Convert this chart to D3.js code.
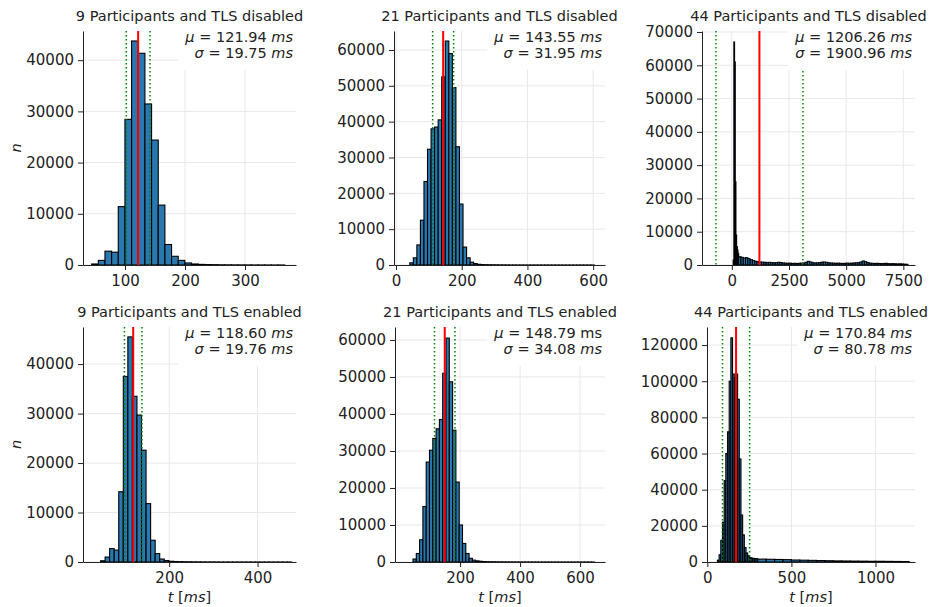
<!DOCTYPE html>
<html>
<head>
<meta charset="utf-8">
<script src="https://cdn.jsdelivr.net/npm/d3@7"></script>
<style>
  body { margin: 0; background: #fff; }
  svg { display: block; font-family: "DejaVu Sans", sans-serif; }
</style>
</head>
<body>
<svg id="chart" width="931" height="607"></svg>
<script>
// ---------------- values ----------------
var participants = [9, 21, 44, 9, 21, 44];
var tlsState = ["disabled", "disabled", "disabled", "enabled", "enabled", "enabled"];
var meanMs = [121.94, 143.55, 1206.26, 118.60, 148.79, 170.84];
var stdMs  = [19.75, 31.95, 1900.96, 19.76, 34.08, 80.78];
var meanUnitItalic = [true, true, true, true, false, true];

var xLimits = [[30, 385], [-6, 636], [-1304, 8010], [5, 487], [-17, 683], [-2, 1235]];
var xTicks  = [[100, 200, 300], [0, 200, 400, 600], [0, 2500, 5000, 7500],
               [200, 400], [200, 400, 600], [0, 500, 1000]];
var yMax      = [45700, 65300, 70300, 47500, 63500, 130000];
var yTickStep = [10000, 10000, 10000, 10000, 10000, 20000];

// histogram bins: first bin start and bin width (ms) per panel
var binStart = [44.4, 42, 60, 44.7, 43, 60];
var binWidth = [11.1, 10.8, 30, 10.3, 11, 10];

var counts9Off = [200, 900, 2700, 2500, 11400, 28450, 43750, 41350, 31450, 24400, 11700, 4000,
  1700, 900, 400, 200, 120, 80, 60, 40, 30, 25, 20, 15, 10, 10, 8, 5, 5];
var counts21Off = [600, 2000, 5600, 12500, 23300, 32300, 38000, 38500, 40500, 52500, 62500, 59000,
  49500, 33000, 17000, 5000, 2000, 800, 400, 200, 120, 80, 60, 50, 40, 30, 25, 20, 15, 12,
  10, 8, 6, 5, 5, 4, 4, 3, 3, 2, 2, 2, 2, 1, 1, 1, 1, 1, 1, 1, 1, 1];
var counts44Off = [1500, 67000, 61000, 25000, 9000, 5500, 4500, 3500];
var counts9On = [250, 1000, 2700, 2400, 14200, 37500, 45500, 33500, 29700, 22600, 11800, 4400,
  1700, 600, 300, 150, 100, 70, 50, 40, 30, 25, 20, 15, 12, 10, 8, 6, 5, 4, 4, 3, 3, 2, 2, 2,
  1, 1, 1, 1, 1, 1];
var counts21On = [800, 2300, 6000, 15000, 27000, 30200, 33400, 36000, 38500, 51000, 60500, 48700,
  35600, 21600, 10000, 5000, 2300, 1000, 500, 300, 200, 120, 80, 60, 50, 40, 30, 25, 20, 15,
  12, 10, 8, 6, 5, 5, 4, 4, 3, 3, 2, 2, 2, 2, 1, 1, 1, 1, 1, 1, 1, 1, 1, 1, 1];
var counts44On = [1000, 4000, 12000, 22000, 45000, 60000, 72000, 100000, 124000, 104000, 102000,
  104000, 90000, 57000, 26000, 15000, 8000, 5000, 3500, 2500, 2200, 2000, 1900, 1800];

// long tails of the 44 participant runs, coarser bins
var tailStart = [null, null, 300, null, null, 300];
var tailWidth = [null, null, 100, null, null, 50];
var tail44Off = [2500, 2300, 2100, 2200, 1900, 1600, 1300, 1100, 1000, 900,
  850, 800, 750, 800, 700, 650, 700, 800, 750, 600,
  550, 500, 550, 450, 500, 450, 500, 550, 600, 800,
  1100, 900, 700, 600, 650, 700, 850, 900, 800, 650,
  600, 550, 500, 550, 500, 450, 500, 550, 500, 550,
  600, 650, 700, 900, 1200, 1000, 700, 550, 500, 450,
  500, 450, 400, 450, 500, 400, 350, 400, 350, 300,
  350, 300, 250, 200];
var tail44On = [1600, 1500, 1400, 1300, 1100, 1000, 900, 800, 700, 600, 550, 500, 450, 400,
  400, 350, 300, 250];

var counts = [counts9Off, counts21Off, counts44Off, counts9On, counts21On, counts44On];
var tails  = [null, null, tail44Off, null, null, tail44On];

// ---------------- layout ----------------
var boxes = [
  {left: 83,  top: 31,  right: 296, bottom: 265},
  {left: 394, top: 31,  right: 605, bottom: 265},
  {left: 702, top: 31,  right: 915, bottom: 265},
  {left: 83,  top: 327, right: 296, bottom: 562},
  {left: 395, top: 327, right: 605, bottom: 562},
  {left: 707, top: 327, right: 915, bottom: 562}
];
var fontSize = 14.5;
var tickFont = 15;
var textColor = "#222";

function makeBins(i) {
  var out = counts[i].map(function(n, k) {
    return {x0: binStart[i] + k * binWidth[i], x1: binStart[i] + (k + 1) * binWidth[i], n: n};
  });
  if (tails[i]) {
    tails[i].forEach(function(n, k) {
      out.push({x0: tailStart[i] + k * tailWidth[i], x1: tailStart[i] + (k + 1) * tailWidth[i], n: n});
    });
  }
  return out;
}

var svg = d3.select("#chart");
svg.append("rect").attr("width", 931).attr("height", 607).attr("fill", "#fff");

participants.forEach(function(p, i) {
  var b = boxes[i];
  var x = d3.scaleLinear().domain(xLimits[i]).range([b.left, b.right]);
  var y = d3.scaleLinear().domain([0, yMax[i]]).range([b.bottom, b.top]);
  var yTicks = d3.range(0, yMax[i] + 1, yTickStep[i]);
  var g = svg.append("g");

  g.append("clipPath").attr("id", "clip" + i)
    .append("rect")
      .attr("x", b.left).attr("y", b.top)
      .attr("width", b.right - b.left).attr("height", b.bottom - b.top);

  // grid
  g.selectAll("line.vgrid").data(xTicks[i]).enter().append("line")
      .attr("x1", function(d) { return x(d); })
      .attr("x2", function(d) { return x(d); })
      .attr("y1", b.top).attr("y2", b.bottom)
      .attr("stroke", "#e8e8e8").attr("stroke-width", 1);
  g.selectAll("line.hgrid").data(yTicks).enter().append("line")
      .attr("x1", b.left).attr("x2", b.right)
      .attr("y1", function(d) { return y(d); })
      .attr("y2", function(d) { return y(d); })
      .attr("stroke", "#e8e8e8").attr("stroke-width", 1);

  // bars
  g.append("g").attr("clip-path", "url(#clip" + i + ")")
    .selectAll("rect").data(makeBins(i)).enter().append("rect")
      .attr("x", function(d) { return x(d.x0); })
      .attr("width", function(d) { return x(d.x1) - x(d.x0); })
      .attr("y", function(d) { return y(d.n); })
      .attr("height", function(d) { return y(0) - y(d.n); })
      .attr("fill", "#2a78b0")
      .attr("stroke", "#000")
      .attr("stroke-width", 1.1);

  // mean and mean +- std
  var lines = g.append("g").attr("clip-path", "url(#clip" + i + ")");
  [meanMs[i] - stdMs[i], meanMs[i] + stdMs[i]].forEach(function(v) {
    lines.append("line")
      .attr("x1", x(v)).attr("x2", x(v))
      .attr("y1", b.top).attr("y2", b.bottom)
      .attr("stroke", "green").attr("stroke-width", 1.5)
      .attr("stroke-dasharray", "1.5,2.5");
  });
  lines.append("line")
    .attr("x1", x(meanMs[i])).attr("x2", x(meanMs[i]))
    .attr("y1", b.top).attr("y2", b.bottom)
    .attr("stroke", "red").attr("stroke-width", 2);

  // axes
  var xAxis = g.append("g").attr("transform", "translate(0," + b.bottom + ")")
    .call(d3.axisBottom(x).tickValues(xTicks[i]).tickSize(5).tickPadding(5)
      .tickSizeOuter(0).tickFormat(d3.format("d")));
  var yAxis = g.append("g").attr("transform", "translate(" + b.left + ",0)")
    .call(d3.axisLeft(y).tickValues(yTicks).tickSize(5).tickPadding(4)
      .tickSizeOuter(0).tickFormat(d3.format("d")));
  [xAxis, yAxis].forEach(function(a) {
    a.attr("font-family", null).attr("font-size", null);
    a.select(".domain").attr("stroke", "#222").attr("stroke-width", 1);
    a.selectAll(".tick line").attr("stroke", "#222");
    a.selectAll(".tick text").attr("fill", textColor).style("font-size", tickFont + "px");
  });

  // title
  g.append("text")
    .attr("x", (b.left + b.right) / 2).attr("y", b.top - 10)
    .attr("text-anchor", "middle")
    .attr("fill", textColor).style("font-size", fontSize + "px")
    .text(p + " Participants and TLS " + tlsState[i]);

  // mean / std box
  var leg = g.append("g");
  var bg = leg.append("rect").attr("fill", "#fff");
  var stats = [
    {sym: "\u03bc", val: meanMs[i].toFixed(2), italic: meanUnitItalic[i], dy: 11},
    {sym: "\u03c3", val: stdMs[i].toFixed(2), italic: true, dy: 27}
  ];
  var minLeft = b.right;
  stats.forEach(function(s) {
    var t = leg.append("text")
      .attr("x", b.right - 3).attr("y", b.top + s.dy)
      .attr("text-anchor", "end")
      .attr("fill", textColor).style("font-size", fontSize + "px");
    t.append("tspan").style("font-style", "italic").text(s.sym);
    t.append("tspan").text(" = " + s.val + " ");
    t.append("tspan").style("font-style", s.italic ? "italic" : "normal").text("ms");
    minLeft = Math.min(minLeft, t.node().getBBox().x);
  });
  bg.attr("x", minLeft - 6).attr("y", b.top)
    .attr("width", b.right - minLeft + 6).attr("height", 39);

  // axis labels
  if (i % 3 === 0) {
    g.append("text")
      .attr("transform", "translate(21," + (b.top + b.bottom) / 2 + ") rotate(-90)")
      .attr("text-anchor", "middle")
      .attr("fill", textColor).style("font-size", fontSize + "px")
      .style("font-style", "italic")
      .text("n");
  }
  if (i >= 3) {
    var xl = g.append("text")
      .attr("x", (b.left + b.right) / 2).attr("y", 602)
      .attr("text-anchor", "middle")
      .attr("fill", textColor).style("font-size", fontSize + "px");
    xl.append("tspan").style("font-style", "italic").text("t");
    xl.append("tspan").text(" [");
    xl.append("tspan").style("font-style", "italic").text("ms");
    xl.append("tspan").text("]");
  }
});
</script>
</body>
</html>
